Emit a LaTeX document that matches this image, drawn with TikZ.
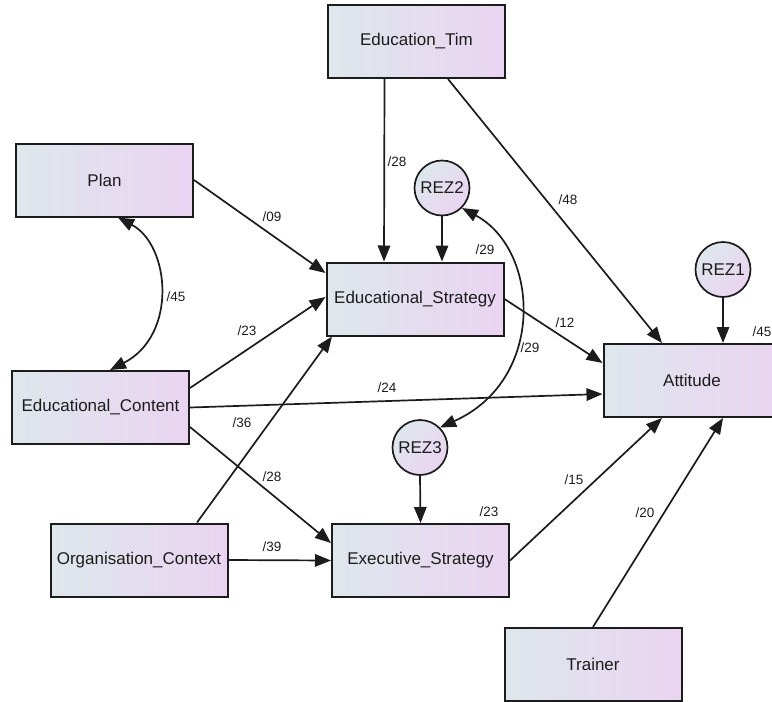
\documentclass[tikz,border=0pt]{standalone}
\usepackage{fontspec}
\setmainfont{Liberation Sans}
\usepackage{tikz}
\usetikzlibrary{arrows.meta}

\definecolor{boxleft}{RGB}{222,231,236}
\definecolor{boxright}{RGB}{234,212,241}
\definecolor{ink}{RGB}{28,28,28}

\tikzset{
	obsbox/.style={draw=ink, line width=2pt, left color=boxleft, right color=boxright, minimum width=177pt, minimum height=73pt, inner sep=0pt, font=\fontsize{17}{20}\selectfont, text=ink},
	resid/.style={circle, draw=ink, line width=1.7pt, left color=boxleft, right color=boxright, shading angle=45, minimum size=55pt, inner sep=0pt, font=\fontsize{17}{20}\selectfont, text=ink},
	effect/.style={line width=1.7pt, draw=ink, -{Triangle[length=16pt,width=12.5pt]}},
	cov/.style={line width=1.7pt, draw=ink, {Triangle[length=16pt,width=12.5pt]}-{Triangle[length=16pt,width=12.5pt]}},
	est/.style={font=\fontsize{13.5}{15}\selectfont, text=ink, inner sep=0pt}
}

\begin{document}
\begin{tikzpicture}[x=1pt, y=-1pt]
		\useasboundingbox (0,0) rectangle (772,702);

		\node[obsbox] (edutim) at (416.5,41.5) {Education\_Tim};
		\node[obsbox] (plan) at (104.5,180) {Plan};
		\node[obsbox] (edustrat) at (415,299) {Educational\_Strategy};
		\node[obsbox] (educont) at (100.5,407.5) {Educational\_Content};
		\node[obsbox] (orgctx) at (139,560) {Organisation\_Context};
		\node[obsbox] (execstrat) at (420.5,560.5) {Executive\_Strategy};
		\node[obsbox] (attitude) at (692,380.5) {Attitude};
		\node[obsbox] (trainer) at (593,664.5) {Trainer};

		\node[resid] (rez1) at (723,269.5) {REZ1};
		\node[resid] (rez2) at (442,188) {REZ2};
		\node[resid] (rez3) at (420,447.5) {REZ3};

		% paths
		\draw[effect] ([xshift=-32pt]edutim.south) -- ([xshift=-31pt]edustrat.north);
		\draw[effect] ([xshift=31.5pt]edutim.south) -- ([xshift=-30pt]attitude.north);
		\draw[effect] (plan.east) -- ([yshift=26pt]edustrat.west);
		\draw[effect] ([yshift=19.5pt]educont.east) -- ([yshift=2pt]edustrat.west);
		\draw[effect] (educont.east) -- ([yshift=-13.5pt]attitude.west);
		\draw[effect] ([yshift=-19.5pt]educont.east) -- ([yshift=17.5pt]execstrat.west);
		\draw[effect] ([xshift=58pt]orgctx.north) -- ([xshift=-83pt]edustrat.south);
		\draw[effect] (orgctx.east) -- (execstrat.west);
		\draw[effect] (edustrat.east) -- ([yshift=17.5pt]attitude.west);
		\draw[effect] (execstrat.east) -- ([xshift=-30pt]attitude.south);
		\draw[effect] (trainer.north) -- ([xshift=31pt]attitude.south);
		\draw[effect] (rez1.south) -- ([xshift=31pt]attitude.north);
		\draw[effect] (rez2.south) -- ([xshift=27pt]edustrat.north);
		\draw[effect] (rez3.south) -- (execstrat.north);

		% covariances
		\draw[cov] ([xshift=13.5pt]plan.south) .. controls (170,245) and (178,335) .. ([xshift=9.5pt]educont.north);
		\draw[cov] (rez2.-45) .. controls (540,250) and (546,380) .. (rez3.45);

		% estimates
		\node[est] (e1) at (397,162) {/28};
		\node[est] (e2) at (568,200) {/48};
		\node[est] (e3) at (272,217) {/09};
		\node[est] (e4) at (176,297) {/45};
		\node[est] (e5) at (247,331) {/23};
		\node[est] (e6) at (387,388) {/24};
		\node[est] (e7) at (242,423) {/36};
		\node[est] (e8) at (272,477) {/28};
		\node[est] (e9) at (272,547) {/39};
		\node[est] (e10) at (565,323) {/12};
		\node[est] (e11) at (574,480) {/15};
		\node[est] (e12) at (645,513) {/20};
		\node[est] (e13) at (530,348) {/29};
		\node[est] (r1) at (485,250) {/29};
		\node[est] (r2) at (762,332) {/45};
		\node[est] (r3) at (489,512) {/23};

	\end{tikzpicture}
\end{document}
